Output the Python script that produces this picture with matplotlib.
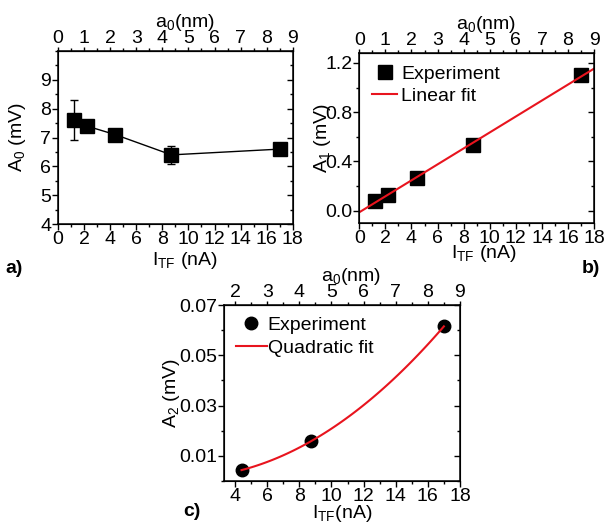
import numpy as np
import matplotlib
matplotlib.use("Agg")
import matplotlib.pyplot as plt
from matplotlib.ticker import MultipleLocator, AutoMinorLocator

plt.rcParams['font.family'] = ['Liberation Sans', 'DejaVu Sans']
plt.rcParams['mathtext.default'] = 'regular'
plt.rcParams['font.size'] = 14

# panel a: offset A0 vs tunnel current
i_a = [1.2, 2.2, 4.4, 8.7, 17.0]
a0_vals = [7.6, 7.4, 7.1, 6.4, 6.6]
a0_err = [0.7, 0.1, 0.1, 0.3, 0.15]

# panel b: first harmonic
i_b = [1.2, 2.2, 4.4, 8.7, 17.0]
a1_vals = [0.08, 0.13, 0.27, 0.53, 1.10]

# panel c: second harmonic
i_c = [4.4, 8.7, 17.0]
a2_vals = [0.0043, 0.0157, 0.0615]

FS = 14


def style_axes(ax, xlim, top_ticks, xlab_x=0.5):
    ax.set_xlim(*xlim)
    ax.xaxis.set_major_locator(MultipleLocator(2))
    ax.xaxis.set_minor_locator(MultipleLocator(1))
    if not isinstance(ax.yaxis.get_minor_locator(), MultipleLocator):
        ax.yaxis.set_minor_locator(AutoMinorLocator(2))
    ax.tick_params(which='both', direction='out', top=False, right=False, width=1)
    ax.tick_params(which='major', length=4, labelsize=FS, pad=1)
    ax.tick_params(which='minor', length=2.5)
    for s in ax.spines.values():
        s.set_linewidth(1.1)
    # mirrored inward ticks on the right
    ax2 = ax.twinx()
    ax2.set_ylim(ax.get_ylim())
    ax2.set_yticks(ax.get_yticks())
    ax2.yaxis.set_minor_locator(ax.yaxis.get_minor_locator())
    ax2.tick_params(which='both', direction='in', labelright=False, width=1)
    ax2.tick_params(which='major', length=4)
    ax2.tick_params(which='minor', length=2.5)
    ax2.set_ylim(ax.get_ylim())
    # top axis in nm
    sec = ax.secondary_xaxis('top', functions=(lambda x: x / 2, lambda x: x * 2))
    sec.set_xticks(top_ticks)
    sec.xaxis.set_minor_locator(MultipleLocator(0.5))
    sec.tick_params(which='both', direction='out', width=1)
    sec.tick_params(which='major', length=3, labelsize=FS, pad=0)
    sec.tick_params(which='minor', length=2)
    sec.set_xlabel('a$_0$(nm)', fontsize=FS, labelpad=2, x=xlab_x)
    return sec


fig = plt.figure(figsize=(6.1, 5.25), dpi=100)

# a)
ax_a = fig.add_axes([0.095, 0.573, 0.385, 0.330])
ax_a.errorbar(i_a, a0_vals, yerr=a0_err, fmt='-s', color='black', ms=10,
              lw=1, capsize=3, elinewidth=1)
ax_a.set_ylim(4, 10)
ax_a.set_yticks([4, 5, 6, 7, 8, 9])
ax_a.set_ylabel('A$_0$ (mV)', fontsize=FS, labelpad=9)
ax_a.set_xlabel('I$_{TF}$ (nA)', fontsize=FS, labelpad=1, x=0.54)
style_axes(ax_a, (0, 18), range(0, 10), xlab_x=0.54)

# b)
ax_b = fig.add_axes([0.589, 0.575, 0.385, 0.324])
coef_b = np.polyfit(i_b, a1_vals, 1)
xf = np.linspace(0, 18, 50)
ax_b.plot(i_b, a1_vals, 's', color='black', ms=10, label='Experiment')
ax_b.plot(xf, np.polyval(coef_b, xf), color='#e8141e', lw=1.5, label='Linear fit')
ax_b.set_ylim(-0.1, 1.28)
ax_b.set_yticks([0.0, 0.4, 0.8, 1.2])
ax_b.set_yticklabels(['0.0', '0.4', '0.8', '1.2'])
ax_b.set_ylabel('A$_1$ (mV)', fontsize=FS, labelpad=-6)
ax_b.set_xlabel('I$_{TF}$ (nA)', fontsize=FS, labelpad=-3, x=0.53)
ax_b.legend(loc='upper left', frameon=False, fontsize=FS, handlelength=1.3,
            handletextpad=0.2, borderaxespad=0.25, labelspacing=0.2)
style_axes(ax_b, (0, 18), range(0, 10), xlab_x=0.54)

# c)
ax_c = fig.add_axes([0.367, 0.084, 0.387, 0.335])
coef_c = np.polyfit(i_c, a2_vals, 2)
xq = np.linspace(4.4, 17.0, 80)
ax_c.plot(i_c, a2_vals, 'o', color='black', ms=9, label='Experiment')
ax_c.plot(xq, np.polyval(coef_c, xq), color='#e8141e', lw=1.5, label='Quadratic fit')
ax_c.set_ylim(0, 0.07)
ax_c.set_yticks([0.01, 0.03, 0.05, 0.07])
ax_c.yaxis.set_minor_locator(MultipleLocator(0.01))
ax_c.set_ylabel('A$_2$ (mV)', fontsize=FS, labelpad=-2)
ax_c.set_xlabel('I$_{TF}$(nA)', fontsize=FS, labelpad=-1)
ax_c.legend(loc='upper left', frameon=False, fontsize=FS, handlelength=1.6,
            handletextpad=0.05, borderaxespad=0.2, labelspacing=0.25)
style_axes(ax_c, (3.3, 18), range(2, 10), xlab_x=0.54)

fig.text(0.008, 0.48, 'a)', fontsize=FS, fontweight='bold')
fig.text(0.953, 0.48, 'b)', fontsize=FS, fontweight='bold')
fig.text(0.3, 0.018, 'c)', fontsize=FS, fontweight='bold')

fig.savefig('out.png', dpi=100)
